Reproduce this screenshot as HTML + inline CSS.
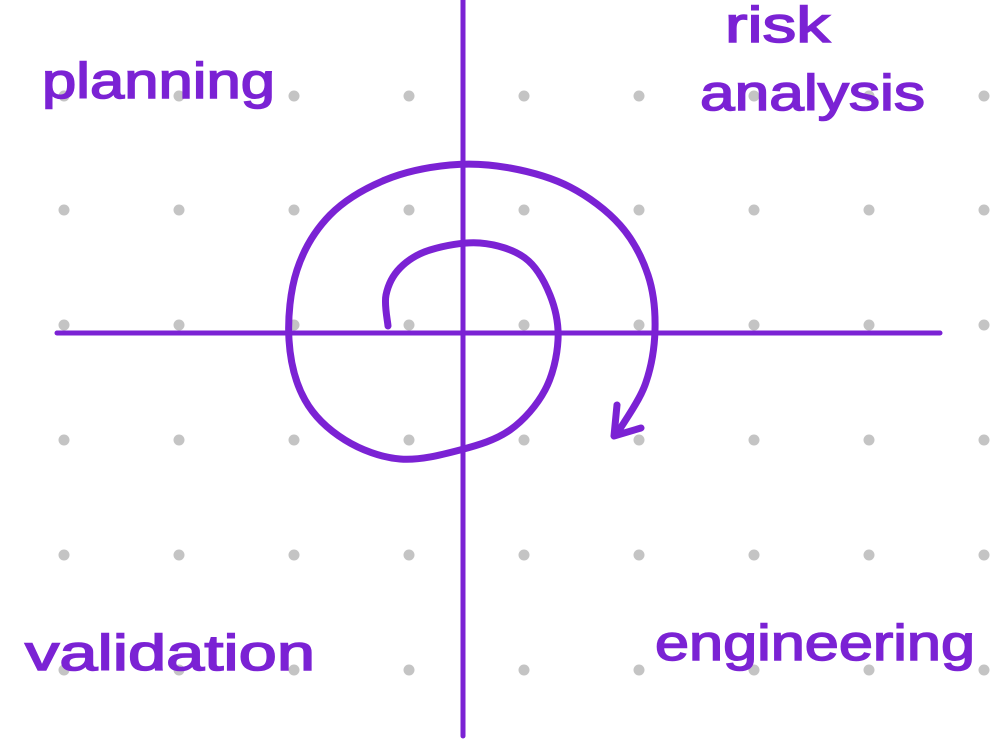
<!DOCTYPE html>
<html><head><meta charset="utf-8">
<style>
html,body{margin:0;padding:0;background:#fff;}
svg{display:block;}
text{font-family:"Liberation Sans",sans-serif;fill:#7b22d4;stroke:#7b22d4;stroke-width:1.5;font-size:50px;}
</style></head>
<body>
<svg id="chart" width="994" height="750" viewBox="0 0 994 750">
  <g id="dots"></g>
  <line x1="463" y1="0" x2="463" y2="736" stroke="#7b22d4" stroke-width="5" stroke-linecap="round"/>
  <line x1="57" y1="333" x2="940" y2="333" stroke="#7b22d4" stroke-width="5" stroke-linecap="round"/>
  <path id="spiral" fill="none" stroke="#7b22d4" stroke-width="7" stroke-linecap="round" stroke-linejoin="round"/>
  <path d="M614 436 L641 428 M614 436 L617 405" fill="none" stroke="#7b22d4" stroke-width="7" stroke-linecap="round"/>
  <text x="42" y="98" textLength="233" lengthAdjust="spacingAndGlyphs">planning</text>
  <text x="725" y="42" textLength="105" lengthAdjust="spacingAndGlyphs">risk</text>
  <text x="700" y="110" textLength="225" lengthAdjust="spacingAndGlyphs">analysis</text>
  <text x="25" y="670" textLength="290" lengthAdjust="spacingAndGlyphs">validation</text>
  <text x="655" y="660" textLength="320" lengthAdjust="spacingAndGlyphs">engineering</text>
</svg>
<script>
const dotXs=[64,179,294,409,524,639,754,869,984];
const dotYs=[96,210,325,440,555,670];
const spiralPts=[[388,326],[386,295],[400,268],[430,250],[480,243],[525,258],[550,295],[558,340],[545,390],[510,430],[460,450],[400,459],[345,440],[305,400],[289,340],[297,270],[330,215],[385,180],[450,165],[510,168],[570,187],[620,225],[648,275],[655,330],[645,385],[618,432]];
const g=document.getElementById('dots');
dotYs.forEach(y=>dotXs.forEach(x=>{
  const c=document.createElementNS('http://www.w3.org/2000/svg','circle');
  c.setAttribute('cx',x);c.setAttribute('cy',y);c.setAttribute('r',5.5);c.setAttribute('fill','#c4c4c4');
  
  
  g.appendChild(c);
}));
let d='M'+spiralPts[0].join(' ');
for(let i=0;i<spiralPts.length-1;i++){
  const p0=spiralPts[Math.max(i-1,0)],p1=spiralPts[i],p2=spiralPts[i+1],p3=spiralPts[Math.min(i+2,spiralPts.length-1)];
  const c1=[p1[0]+(p2[0]-p0[0])/6,p1[1]+(p2[1]-p0[1])/6];
  const c2=[p2[0]-(p3[0]-p1[0])/6,p2[1]-(p3[1]-p1[1])/6];
  d+=` C${c1[0]} ${c1[1]} ${c2[0]} ${c2[1]} ${p2[0]} ${p2[1]}`;
}
document.getElementById('spiral').setAttribute('d',d);
</script>
</body></html>
